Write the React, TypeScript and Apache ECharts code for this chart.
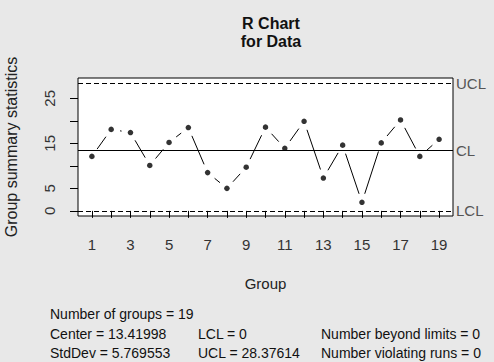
import React, { useEffect, useRef } from "react";
import * as echarts from "echarts";

const groups = [1, 2, 3, 4, 5, 6, 7, 8, 9, 10, 11, 12, 13, 14, 15, 16, 17, 18, 19];
const ranges = [12.1, 18.1, 17.4, 10.1, 15.2, 18.5, 8.5, 5.0, 9.7, 18.6, 13.9, 19.9, 7.3, 14.6, 1.9, 15.1, 20.2, 12.1, 15.9];
const centerLine = 13.41998;
const lcl = 0;
const ucl = 28.37614;
const xTicks = groups;
const xTickLabels = [1, 3, 5, 7, 9, 11, 13, 15, 17, 19];
const yTicks = [0, 5, 10, 15, 20, 25];
const yTickLabels = [0, 5, 15, 25];
const statsCol1 = ["Number of groups = 19", "Center = 13.41998", "StdDev = 5.769553"];
const statsCol2 = ["", "LCL = 0", "UCL = 28.37614"];
const statsCol3 = ["", "Number beyond limits = 0", "Number violating runs = 0"];

const FONT = "'Liberation Sans', Arial, Helvetica, sans-serif";

export default function App() {
  const ref = useRef<HTMLDivElement>(null);
  useEffect(() => {
    if (!ref.current) return;
    const chart = echarts.init(ref.current, null, { renderer: "svg" });
    const xMin = 1 - 0.04 * 18;
    const xMax = 19 + 0.04 * 18;
    const yMin = lcl - 0.04 * (ucl - lcl);
    const yMax = ucl + 0.04 * (ucl - lcl);
    const segs = groups.slice(0, -1).map((g, i) => [g, ranges[i], groups[i + 1], ranges[i + 1]]);
    const lineYs = [314, 334, 353];
    const graphics: any[] = [];
    [[statsCol1, 50], [statsCol2, 198], [statsCol3, 321]].forEach(([col, x]: any) => {
      (col as string[]).forEach((t, i) => {
        if (!t) return;
        graphics.push({
          type: "text",
          x,
          y: lineYs[i],
          style: { text: t, fontSize: 14, fontFamily: FONT, fill: "#111", verticalAlign: "middle", align: "left" },
        });
      });
    });
    chart.setOption({
      animation: false,
      backgroundColor: "#e8e8e8",
      textStyle: { fontFamily: FONT },
      title: {
        text: "R Chart\nfor Data",
        left: 266,
        top: 9,
        textAlign: "center",
        textStyle: { fontSize: 16, fontWeight: "bold", color: "#111", lineHeight: 18, fontFamily: FONT },
      },
      grid: {
        left: 78,
        top: 78,
        width: 375,
        height: 138,
        show: true,
        backgroundColor: "#fff",
        borderColor: "#000",
        borderWidth: 1,
        containLabel: false,
        outerBoundsMode: "none",
      },
      xAxis: {
        type: "value",
        min: xMin,
        max: xMax,
        name: "Group",
        nameLocation: "middle",
        nameGap: 60,
        nameTextStyle: { fontSize: 15, color: "#222", fontFamily: FONT },
        axisLine: { show: false },
        splitLine: { show: false },
        axisTick: { show: true, inside: false, length: 7, customValues: xTicks, lineStyle: { color: "#000" } },
        axisLabel: { customValues: xTickLabels, fontSize: 15, color: "#333", margin: 21, fontFamily: FONT },
      },
      yAxis: {
        type: "value",
        min: yMin,
        max: yMax,
        name: "Group summary statistics",
        nameLocation: "middle",
        nameGap: 59,
        nameRotate: 90,
        nameTextStyle: { fontSize: 16, color: "#222", fontFamily: FONT },
        axisLine: { show: false },
        splitLine: { show: false },
        axisTick: { show: true, inside: false, length: 8, customValues: yTicks, lineStyle: { color: "#000" } },
        axisLabel: { customValues: yTickLabels, rotate: 90, fontSize: 15, color: "#333", margin: 21, fontFamily: FONT },
      },
      graphic: graphics,
      series: [
        {
          type: "custom",
          data: segs,
          encode: { x: [0, 2], y: [1, 3] },
          silent: true,
          renderItem: (params: any, api: any) => {
            const p1 = api.coord([api.value(0), api.value(1)]);
            const p2 = api.coord([api.value(2), api.value(3)]);
            const dx = p2[0] - p1[0];
            const dy = p2[1] - p1[1];
            const len = Math.hypot(dx, dy);
            const gap = 9;
            if (len <= 2 * gap) return null;
            const ux = dx / len;
            const uy = dy / len;
            return {
              type: "line",
              shape: { x1: p1[0] + ux * gap, y1: p1[1] + uy * gap, x2: p2[0] - ux * gap, y2: p2[1] - uy * gap },
              style: { stroke: "#000", lineWidth: 1 },
            };
          },
        },
        {
          type: "scatter",
          data: groups.map((g, i) => [g, ranges[i]]),
          symbol: "circle",
          symbolSize: 5.5,
          itemStyle: { color: "#000" },
          silent: true,
          markLine: {
            silent: true,
            symbol: "none",
            label: { show: true, position: "end", distance: 3, fontSize: 15, color: "#555", fontFamily: FONT },
            data: [
              { yAxis: ucl, name: "UCL", label: { formatter: "UCL" }, lineStyle: { type: [5, 3], color: "#000", width: 1 } },
              { yAxis: centerLine, name: "CL", label: { formatter: "CL" }, lineStyle: { type: "solid", color: "#000", width: 1 } },
              { yAxis: lcl, name: "LCL", label: { formatter: "LCL" }, lineStyle: { type: [5, 3], color: "#000", width: 1 } },
            ],
          },
        },
      ],
    });
    return () => chart.dispose();
  }, []);
  return <div ref={ref} style={{ position: "absolute", left: 0, top: 0, width: 494, height: 362 }} />;
}
